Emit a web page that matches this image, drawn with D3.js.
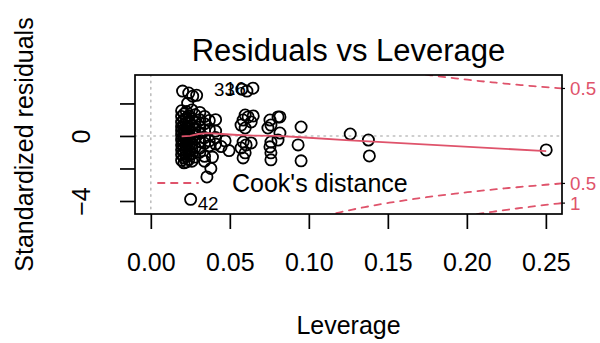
<!DOCTYPE html>
<html>
<head>
<meta charset="utf-8">
<script src="https://cdn.jsdelivr.net/npm/d3@7"></script>
<style>
  body { margin: 0; background: #fff; }
  svg { display: block; }
  text { font-family: "Liberation Sans", Arial, Helvetica, sans-serif; }
</style>
</head>
<body>
<svg id="chart" width="600" height="343"></svg>
<script>
// leverage (hat values) and standardized residuals
const leverage = [
  0.0195, 0.0195, 0.0195, 0.0195, 0.0195, 0.0195, 0.0195, 0.0195, 0.0195, 0.0195, 0.0195,
  0.021, 0.021, 0.021, 0.021, 0.021, 0.021, 0.021, 0.021, 0.021, 0.021, 0.021,
  0.0225, 0.0225, 0.0225, 0.0225, 0.0225, 0.0225, 0.0225, 0.0225, 0.0225, 0.0225, 0.0225,
  0.024, 0.024, 0.024, 0.024, 0.024, 0.024, 0.024, 0.024, 0.024, 0.024,
  0.026, 0.026, 0.026, 0.026, 0.026, 0.026, 0.026, 0.026, 0.026,
  0.028, 0.028, 0.028, 0.028, 0.028, 0.028, 0.028,
  0.031, 0.031, 0.031, 0.031, 0.031, 0.031, 0.031,
  0.034, 0.034, 0.034, 0.034, 0.034, 0.034, 0.034,
  0.037, 0.037, 0.037, 0.037, 0.039,
  0.041, 0.041, 0.041, 0.041,
  0.0355, 0.047, 0.0495, 0.0445, 0.038,
  0.0201, 0.024, 0.0265, 0.029, 0.0233,
  0.0597, 0.0616, 0.0584, 0.0571, 0.0597, 0.0648, 0.0635,
  0.0584, 0.0603, 0.0571, 0.0597, 0.0584, 0.0635,
  0.0608,
  0.0805, 0.0754, 0.076, 0.0741, 0.076, 0.0754, 0.076, 0.076, 0.0805, 0.0817, 0.0817,
  0.0951, 0.0932, 0.0951, 0.1262, 0.1377, 0.1383, 0.2502
]
const stdResid = [
  1.55, 1.2, 0.85, 0.55, 0.3, 0.05, -0.25, -0.55, -0.85, -1.15, -1.5,
  1.35, 1.0, 0.7, 0.4, 0.15, -0.1, -0.4, -0.7, -1.0, -1.35, -1.65,
  1.5, 1.1, 0.8, 0.5, 0.2, -0.05, -0.35, -0.65, -0.95, -1.25, -1.6,
  1.25, 0.9, 0.6, 0.3, 0.0, -0.3, -0.6, -0.9, -1.2, -1.45,
  1.6, 1.05, 0.65, 0.25, -0.15, -0.5, -0.8, -1.1, -1.55,
  1.3, 0.85, 0.45, 0.1, -0.2, -0.7, -1.3,
  1.45, 1.0, 0.55, 0.2, -0.35, -0.75, -1.0,
  1.2, 0.75, 0.35, -0.1, -0.45, -1.25, -1.55,
  0.95, 0.4, -0.3, -0.6, -1.3,
  1.0, 0.3, -0.1, -0.5,
  -2.52, -0.3, -0.9, -0.65, -2.0,
  2.76, 2.64, 2.45, 2.5, 2.02,
  1.29, 1.17, 0.98, 0.67, 0.49, 1.23, 0.86,
  -0.37, -0.55, -0.74, -1.04, -1.35, -0.43,
  2.76,
  1.17, 0.98, 0.67, 0.49, -0.37, -0.67, -1.04, -1.47, -0.25, 1.17, 0.18,
  0.55, -0.55, -1.53, 0.12, -0.25, -1.23, -0.86
]

// the three points with the largest Cook's distance
const labelNames = ['33', '16', '42']
const labelLeverage = [0.0576, 0.0646, 0.0252]
const labelResid = [2.88, 2.94, -3.9]

// smoother (red line)
const smoothLeverage = [0.0195, 0.025, 0.03, 0.036, 0.045, 0.055, 0.065, 0.08, 0.095, 0.126, 0.138, 0.2502]
const smoothResid = [-0.03, 0.0, 0.12, 0.17, 0.12, 0.06, 0.02, 0.0, -0.08, -0.27, -0.33, -0.93]

const xTicks = [0, 0.05, 0.1, 0.15, 0.2, 0.25]
const xTickLabels = ['0.00', '0.05', '0.10', '0.15', '0.20', '0.25']
const yTicks = [-4, -2, 0, 2]
const yTickLabels = ['\u22124', '', '0', '']

const cookLevels = [0.5, 1]
const nCoef = 6

const red = '#DF536B'

const svg = d3.select('#chart')

const margin = { top: 75, right: 38, bottom: 129, left: 135 }
const width = 600 - margin.left - margin.right
const height = 343 - margin.top - margin.bottom

const x = d3.scaleLinear().domain([-0.010008, 0.260208]).range([0, width])
const y = d3.scaleLinear().domain([-4.8, 3.75]).range([height, 0])

const g = svg.append('g').attr('transform', `translate(${margin.left},${margin.top})`)

svg.append('defs').append('clipPath').attr('id', 'plotclip')
  .append('rect').attr('width', width).attr('height', height)

const plot = g.append('g').attr('clip-path', 'url(#plotclip)')

// reference lines at h = 0 and v = 0
plot.append('line')
  .attr('x1', 0).attr('x2', width)
  .attr('y1', y(0)).attr('y2', y(0))
  .attr('stroke', '#BEBEBE').attr('stroke-width', 1.6)
  .attr('stroke-dasharray', '1.5,4.8').attr('stroke-linecap', 'round')
plot.append('line')
  .attr('x1', x(0)).attr('x2', x(0))
  .attr('y1', 0).attr('y2', height)
  .attr('stroke', '#BEBEBE').attr('stroke-width', 1.6)
  .attr('stroke-dasharray', '1.5,4.8').attr('stroke-linecap', 'round')

// points
const allLev = leverage.concat(labelLeverage)
const allRes = stdResid.concat(labelResid)
plot.selectAll('.pt')
  .data(allLev.map((h, i) => ({ h, r: allRes[i] })))
  .enter()
  .append('circle')
  .attr('class', 'pt')
  .attr('cx', d => x(d.h))
  .attr('cy', d => y(d.r))
  .attr('r', 5.6)
  .attr('fill', 'none')
  .attr('stroke', '#000')
  .attr('stroke-width', 1.8)

// smoother
const line = d3.line().x(d => x(d[0])).y(d => y(d[1]))
plot.append('path')
  .datum(smoothLeverage.map((h, i) => [h, smoothResid[i]]))
  .attr('d', line)
  .attr('fill', 'none')
  .attr('stroke', red)
  .attr('stroke-width', 1.8)

// Cook's distance contours
const hStart = 0.0002
const hEnd = x.domain()[1]
const hh = d3.range(101).map(i => hStart + (hEnd - hStart) * i / 100)
cookLevels.forEach(crit => {
  const up = hh.map(h => [h, Math.sqrt(crit * nCoef * (1 - h) / h)])
  const down = up.map(d => [d[0], -d[1]])
  ;[up, down].forEach(pts => {
    plot.append('path')
      .datum(pts)
      .attr('d', line)
      .attr('fill', 'none')
      .attr('stroke', red)
      .attr('stroke-width', 1.8)
      .attr('stroke-dasharray', '6.5,6.5')
      .attr('stroke-linecap', 'round')
  })
})

// box
g.append('rect')
  .attr('width', width).attr('height', height)
  .attr('fill', 'none').attr('stroke', '#000').attr('stroke-width', 1.7)

// x axis
const xAxis = g.append('g')
  .attr('transform', `translate(0,${height})`)
  .call(d3.axisBottom(x).tickValues(xTicks).tickFormat((d, i) => xTickLabels[i]).tickSize(15).tickPadding(24))
xAxis.select('.domain').remove()
xAxis.selectAll('line').attr('stroke-width', 1.7)
xAxis.selectAll('text').attr('font-size', '25px').attr('fill', '#000')
  .attr('font-family', '"Liberation Sans", Arial, sans-serif')

// y axis, labels parallel to the axis
const yAxis = g.append('g')
  .call(d3.axisLeft(y).tickValues(yTicks).tickFormat((d, i) => yTickLabels[i]).tickSize(15))
yAxis.select('.domain').remove()
yAxis.selectAll('line').attr('stroke-width', 1.7)
yAxis.selectAll('text')
  .attr('x', null).attr('dy', null)
  .attr('transform', 'translate(-45,0) rotate(-90)')
  .attr('text-anchor', 'middle')
  .attr('font-size', '25px').attr('fill', '#000')
  .attr('font-family', '"Liberation Sans", Arial, sans-serif')

// right axis with Cook's levels
const xmax = Math.min(0.99, hEnd)
const ymult = Math.sqrt(nCoef * (1 - xmax) / xmax)
const atY = cookLevels.map(l => Math.sqrt(l) * ymult)
const rightPos = atY.slice().reverse().map(v => -v).concat(atY)
const rightLab = cookLevels.slice().reverse().concat(cookLevels).map(String)
const [yLo, yHi] = y.domain()
const right = g.append('g').attr('transform', `translate(${width},0)`)
rightPos.forEach((v, i) => {
  if (v < yLo || v > yHi) return
  right.append('line')
    .attr('x1', 0).attr('x2', 3).attr('y1', y(v)).attr('y2', y(v))
    .attr('stroke', '#000').attr('stroke-width', 1.2)
  right.append('text')
    .attr('x', 8).attr('y', y(v)).attr('dy', '0.35em')
    .attr('font-size', '18.75px').attr('fill', red)
    .text(rightLab[i])
})

// point labels
const mid = d3.mean(d3.extent(labelLeverage))
labelNames.forEach((name, i) => {
  const px = x(labelLeverage[i])
  let py = y(labelResid[i])
  if (labelResid[i] < 0) py += 4.5
  const onRight = labelLeverage[i] <= mid
  g.append('text')
    .attr('x', onRight ? px + 7 : px - 7)
    .attr('y', py)
    .attr('dy', '0.35em')
    .attr('text-anchor', onRight ? 'start' : 'end')
    .attr('font-size', '18.75px')
    .attr('fill', '#000')
    .text(name)
})

// legend
const legend = g.append('g').attr('transform', `translate(23, ${height - 31})`)
legend.append('line')
  .attr('x1', 0).attr('x2', 40).attr('y1', 0).attr('y2', 0)
  .attr('stroke', red).attr('stroke-width', 1.8)
  .attr('stroke-dasharray', '6.5,6.5').attr('stroke-linecap', 'round')
legend.append('text')
  .attr('x', 74).attr('y', 0).attr('dy', '0.35em')
  .attr('font-size', '25px').attr('fill', '#000')
  .text("Cook's distance")

// titles
svg.append('text')
  .attr('x', margin.left + width / 2).attr('y', 61)
  .attr('text-anchor', 'middle')
  .attr('font-size', '31px').attr('fill', '#000')
  .text('Residuals vs Leverage')

svg.append('text')
  .attr('x', margin.left + width / 2).attr('y', 334)
  .attr('text-anchor', 'middle')
  .attr('font-size', '25px').attr('fill', '#000')
  .text('Leverage')

svg.append('text')
  .attr('transform', `translate(33, ${margin.top + height / 2}) rotate(-90)`)
  .attr('text-anchor', 'middle')
  .attr('font-size', '25px').attr('fill', '#000')
  .text('Standardized residuals')
</script>
</body>
</html>
